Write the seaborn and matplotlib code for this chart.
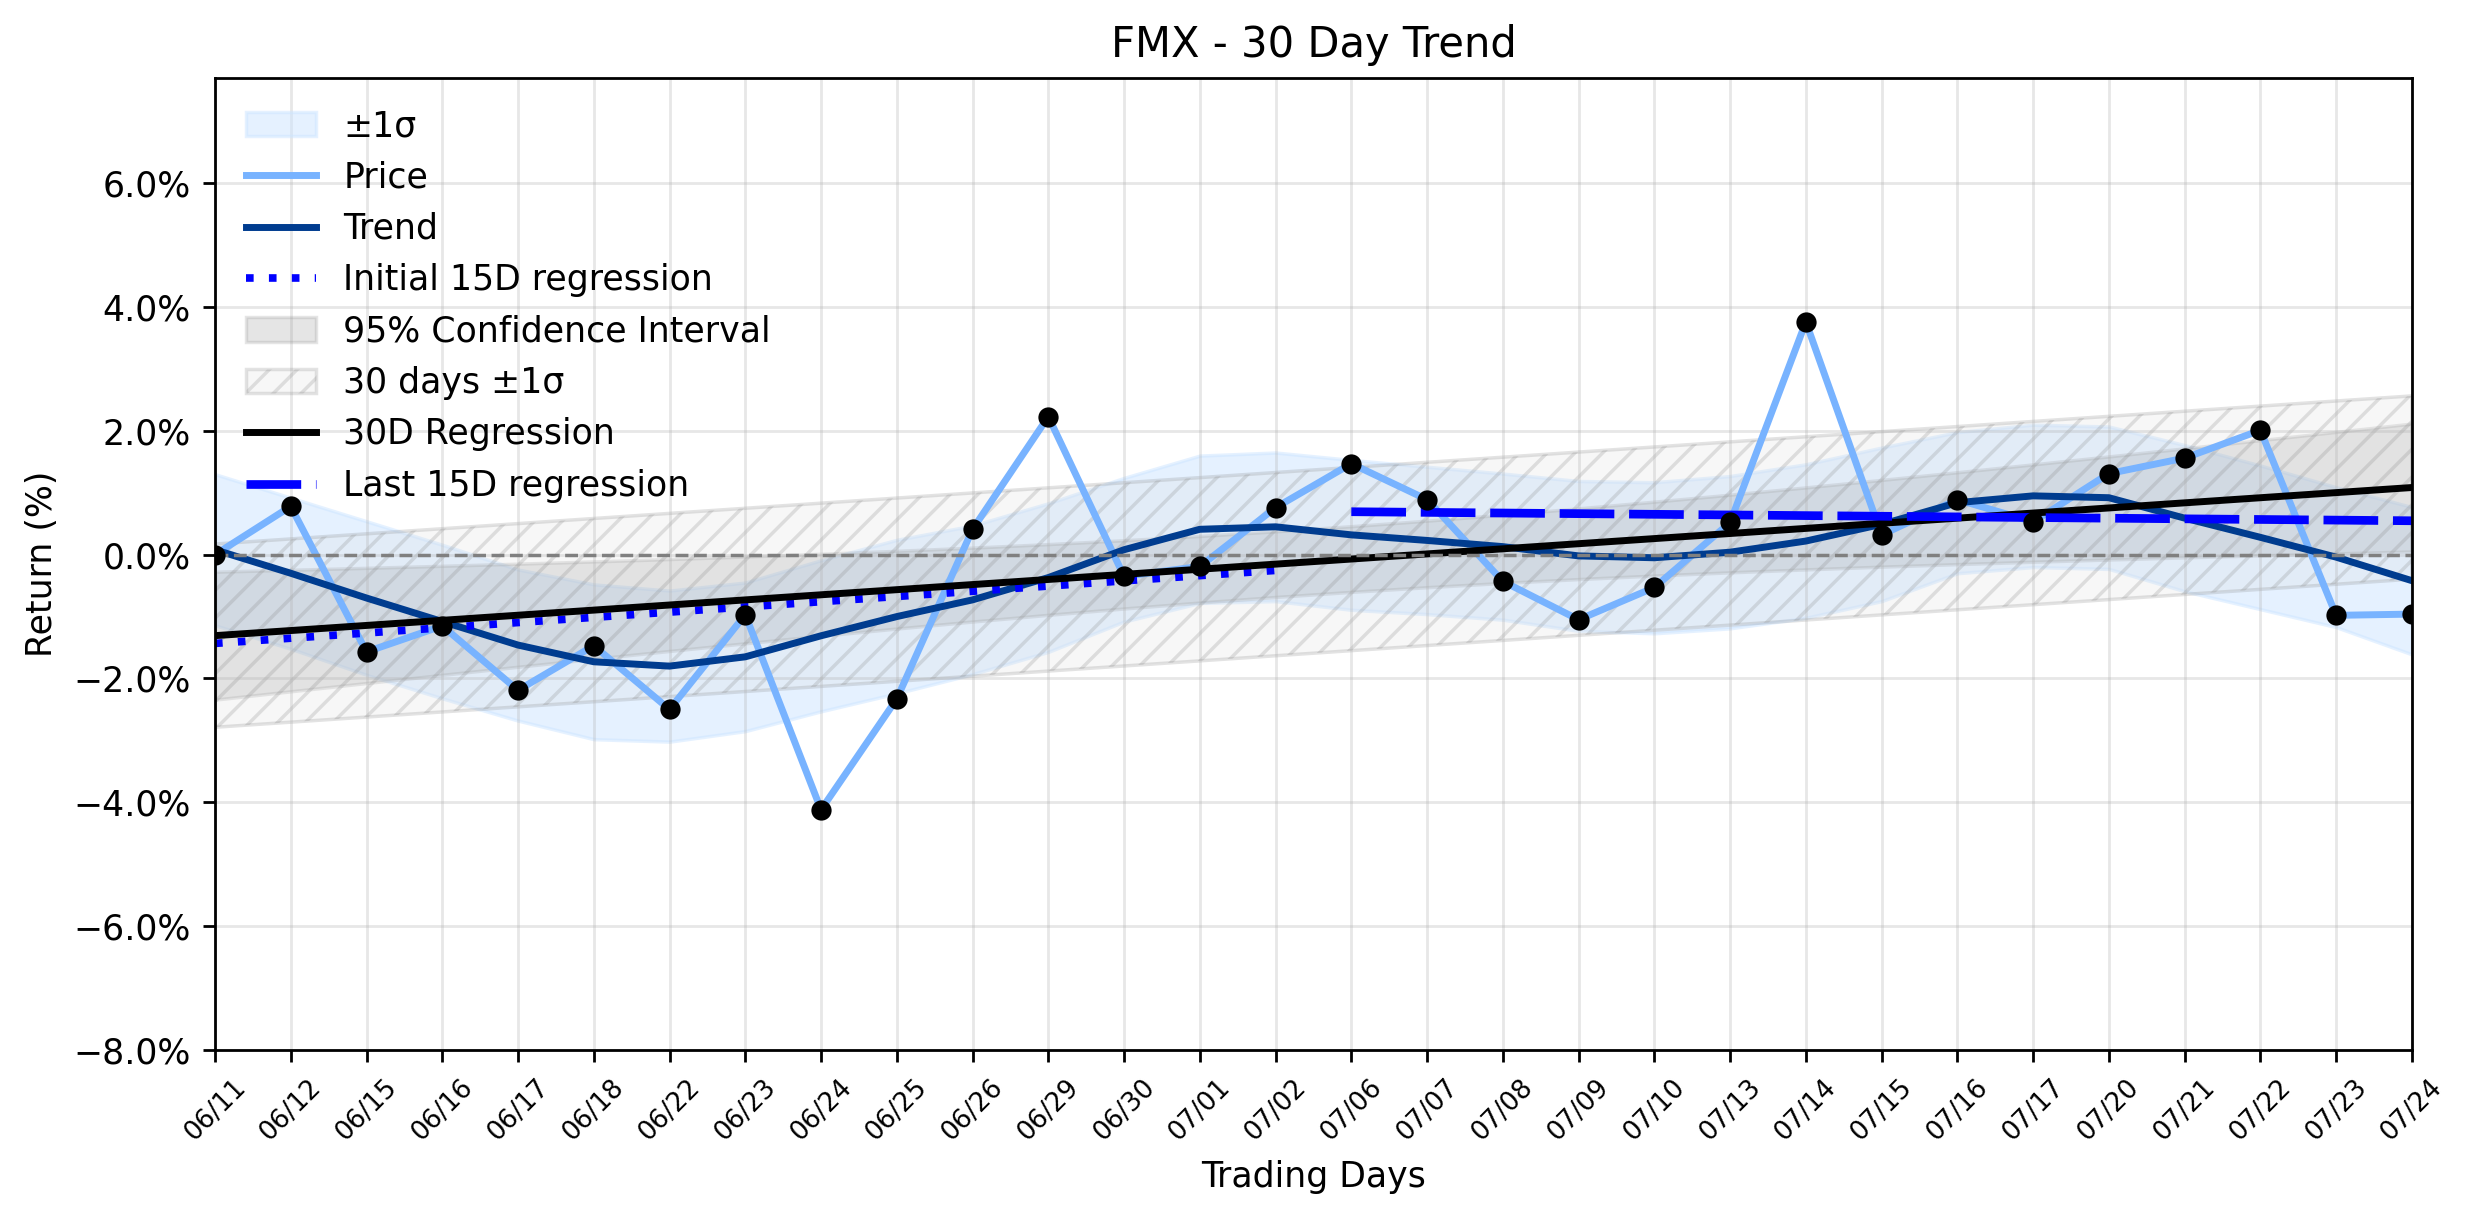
import numpy as np
import pandas as pd
import matplotlib
matplotlib.use('Agg')
import matplotlib.pyplot as plt
import seaborn as sns
from matplotlib.ticker import PercentFormatter

# 交易日
days = ['06/11', '06/12', '06/15', '06/16', '06/17', '06/18', '06/22', '06/23',
        '06/24', '06/25', '06/26', '06/29', '06/30', '07/01', '07/02', '07/06',
        '07/07', '07/08', '07/09', '07/10', '07/13', '07/14', '07/15', '07/16',
        '07/17', '07/20', '07/21', '07/22', '07/23', '07/24']
# 收益率 (%)
price = [0.00, 0.78, -1.57, -1.15, -2.19, -1.47, -2.50, -0.97, -4.12, -2.33,
         0.41, 2.23, -0.35, -0.19, 0.76, 1.47, 0.89, -0.43, -1.05, -0.53,
         0.52, 3.76, 0.32, 0.89, 0.53, 1.31, 1.56, 2.01, -0.98, -0.96]
# 平滑趋势
trend = [0.08, -0.30, -0.70, -1.08, -1.46, -1.73, -1.80, -1.65, -1.31, -1.00,
         -0.73, -0.37, 0.08, 0.41, 0.45, 0.32, 0.23, 0.13, -0.02, -0.05,
         0.04, 0.22, 0.49, 0.84, 0.95, 0.92, 0.59, 0.28, -0.04, -0.42]
# 滚动标准差
sigma = [1.22, 1.22, 1.24, 1.24, 1.22, 1.25, 1.22, 1.20, 1.22, 1.24,
         1.20, 1.20, 1.16, 1.19, 1.20, 1.21, 1.19, 1.18, 1.21, 1.22,
         1.23, 1.24, 1.24, 1.14, 1.15, 1.15, 1.18, 1.16, 1.13, 1.19]

df = pd.DataFrame({'x': np.arange(len(days)), 'price': price,
                   'trend': trend, 'sigma': sigma})
x = df['x'].values
n = len(x)

# 30日回归 + 置信区间
k, b = np.polyfit(x, df['price'], 1)
reg = k * x + b
resid = df['price'].values - reg
s = np.sqrt((resid ** 2).sum() / (n - 2))
se = s * np.sqrt(1 / n + (x - x.mean()) ** 2 / ((x - x.mean()) ** 2).sum())
ci = 1.96 * se

# 前15日 / 后15日回归
k1, b1 = np.polyfit(x[:15], df['price'][:15], 1)
k2, b2 = np.polyfit(x[15:], df['price'][15:], 1)

fig = plt.figure(figsize=(2474 / 250, 1224 / 250), dpi=250)
ax = fig.add_axes([0.0869, 0.1422, 0.888, 0.7941])

ax.fill_between(x, df['trend'] - df['sigma'], df['trend'] + df['sigma'],
                color='#cce5ff', alpha=0.5, label='±1σ')
sns.lineplot(x=x, y=df['price'], ax=ax, color='#78b3ff', linewidth=2, label='Price')
sns.lineplot(x=x, y=df['trend'], ax=ax, color='#003c8f', linewidth=2, label='Trend')
sns.scatterplot(x=x, y=df['price'], ax=ax, color='black', s=34, linewidth=0, zorder=5)
sns.lineplot(x=x[:15], y=k1 * x[:15] + b1, ax=ax, color='blue', linewidth=2.2,
             linestyle=(0, (1, 2)), label='Initial 15D regression')
ax.fill_between(x, reg - ci, reg + ci, color='gray', alpha=0.2,
                label='95% Confidence Interval')
ax.fill_between(x, reg - s, reg + s, facecolor=(0.85, 0.85, 0.85, 0.2),
                edgecolor=(0.5, 0.5, 0.5, 0.22), hatch='///', linewidth=1,
                label='30 days ±1σ')
sns.lineplot(x=x, y=reg, ax=ax, color='black', linewidth=2, label='30D Regression')
sns.lineplot(x=x[15:], y=k2 * x[15:] + b2, ax=ax, color='blue', linewidth=2.5,
             linestyle=(0, (6.3, 1.7)), label='Last 15D regression')
ax.axhline(0, color='gray', linestyle='--', linewidth=1)

ax.set_xlim(0, n - 1)
ax.set_ylim(-8, 7.7)
ax.set_yticks(np.arange(-8, 7, 2))
ax.yaxis.set_major_formatter(PercentFormatter(decimals=1))
ax.set_xticks(x)
ax.set_xticklabels(days, rotation=45, fontsize=7.5)
ax.tick_params(axis='y', labelsize=10)
ax.grid(True, alpha=0.3)
ax.set_xlabel('Trading Days', fontsize=10)
ax.set_ylabel('Return (%)', fontsize=10)
ax.set_title('FMX - 30 Day Trend', fontsize=12)

handles, labels = ax.get_legend_handles_labels()
order = ['±1σ', 'Price', 'Trend', 'Initial 15D regression', '95% Confidence Interval',
         '30 days ±1σ', '30D Regression', 'Last 15D regression']
hmap = dict(zip(labels, handles))
ax.legend([hmap[l] for l in order], order, loc='upper left', frameon=False, fontsize=10)

plt.savefig('out.png', dpi=250)
